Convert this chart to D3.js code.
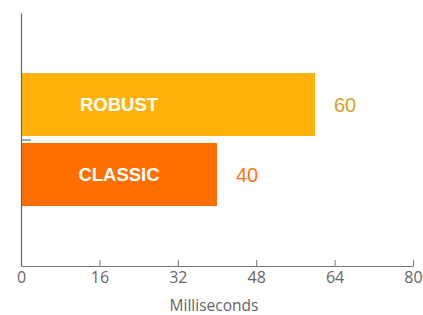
<!DOCTYPE html>
<html>
<head>
<meta charset="utf-8">
<script src="https://cdn.jsdelivr.net/npm/d3@7"></script>
<style>
  html, body { margin: 0; padding: 0; background: #fff; }
  svg { display: block; }
</style>
</head>
<body>
<svg id="chart" width="423" height="315"></svg>
<script>
const categories = ["ROBUST", "CLASSIC"];
const values = [60, 40];
const barColors = ["#FFB30A", "#FF6F00"];
const valueColors = ["#DCA01E", "#FF7410"];
const xTicks = [0, 16, 32, 48, 64, 80];
const xTitle = "Milliseconds";

(function () {
const svg = d3.select("#chart");
const mLeft = 21, mRight = 413, mTop = 13, mBottom = 266;

const x = d3.scaleLinear().domain([0, 80]).range([mLeft, mRight]);
const y = d3.scaleBand().domain(categories).range([mTop, mBottom])
  .paddingInner(0.1).paddingOuter(0.857);
const yMid = d3.scaleLinear().domain([0, 1]).range([mTop, mBottom]);

// bars
svg.selectAll("rect.bar").data(categories).enter().append("rect")
  .attr("class", "bar")
  .attr("x", x(0))
  .attr("y", d => y(d))
  .attr("width", (d, i) => x(values[i]) - x(0))
  .attr("height", y.bandwidth())
  .attr("fill", (d, i) => barColors[i]);

// inner labels
svg.selectAll("text.cat").data(categories).enter().append("text")
  .attr("class", "cat")
  .attr("x", x(20))
  .attr("y", d => y(d) + y.bandwidth() / 2)
  .attr("dy", "0.36em")
  .attr("text-anchor", "middle")
  .attr("fill", "#fff")
  .style("font-family", "Liberation Sans, Arial, sans-serif")
  .style("font-weight", "bold")
  .style("font-size", "18.5px")
  .text(d => d);

// value labels
svg.selectAll("text.val").data(categories).enter().append("text")
  .attr("class", "val")
  .attr("x", (d, i) => x(values[i]) + 19)
  .attr("y", d => y(d) + y.bandwidth() / 2)
  .attr("dy", "0.36em")
  .attr("fill", (d, i) => valueColors[i])
  .style("font-family", "Liberation Sans, Arial, sans-serif")
  .style("font-size", "20px")
  .text((d, i) => values[i]);

// x axis
const xAxis = svg.append("g")
  .attr("transform", `translate(0,${mBottom})`)
  .call(d3.axisBottom(x).tickValues(xTicks).tickSizeInner(-6).tickSizeOuter(0).tickPadding(6));
xAxis.select(".domain").attr("stroke", "#777").attr("stroke-width", 1.2);
xAxis.selectAll(".tick line").attr("stroke", "#777");
xAxis.selectAll(".tick text")
  .attr("fill", "#666")
  .style("font-family", "Open Sans, sans-serif")
  .style("font-size", "16px");

// y axis
const yAxis = svg.append("g")
  .attr("transform", `translate(${mLeft},0)`)
  .call(d3.axisLeft(yMid).tickValues([0.5]).tickSizeInner(-10).tickSizeOuter(0).tickFormat(""));
yAxis.select(".domain").attr("stroke", "#666").attr("stroke-width", 1.2);
yAxis.selectAll(".tick line").attr("stroke", "#666").attr("stroke-width", 1.2);

// x title
svg.append("text")
  .attr("x", (mLeft + mRight) / 2 - 3)
  .attr("y", 311)
  .attr("text-anchor", "middle")
  .attr("fill", "#666")
  .style("font-family", "Open Sans, sans-serif")
  .style("font-size", "15.5px")
  .text(xTitle);
})();
</script>
</body>
</html>
